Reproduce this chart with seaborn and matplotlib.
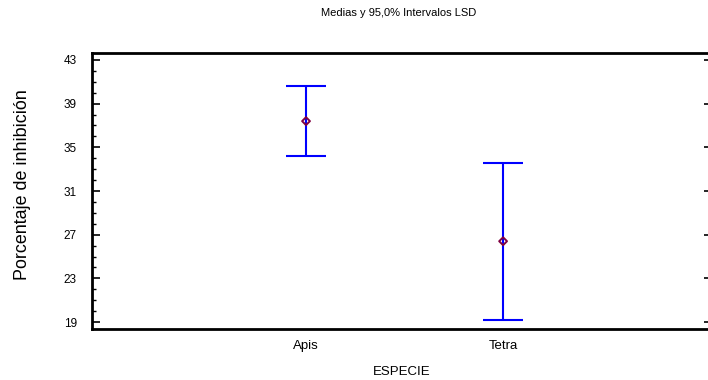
import matplotlib
matplotlib.use('Agg')
import matplotlib.pyplot as plt
from matplotlib.ticker import MultipleLocator
import seaborn as sns
import pandas as pd

# LSD means and 95% intervals
especie = ['Apis', 'Tetra']
medias = [37.4, 26.4]
lim_inf = [34.2, 19.2]
lim_sup = [40.6, 33.6]

sns.set_style('white')
plt.rcParams['font.family'] = ['Liberation Sans', 'DejaVu Sans']
plt.rcParams['text.color'] = 'black'
plt.rcParams['xtick.color'] = 'black'
plt.rcParams['ytick.color'] = 'black'
plt.rcParams['axes.labelcolor'] = 'black'

df = pd.DataFrame({'ESPECIE': especie, 'media': medias,
                   'inf': lim_inf, 'sup': lim_sup})
df['pos'] = range(len(df))

fig = plt.figure(figsize=(7.08, 3.8), dpi=100)
# the plot frame runs slightly past the right edge of the picture
ax = fig.add_axes([92 / 708, 1 - 329 / 380, 620 / 708, 276 / 380])

ax.errorbar(df['pos'], df['media'],
            yerr=[df['media'] - df['inf'], df['sup'] - df['media']],
            fmt='none', ecolor='#0000FF', elinewidth=1.5,
            capsize=14.4, capthick=1.5, zorder=2)
sns.scatterplot(data=df, x='pos', y='media', ax=ax, marker='D', s=16,
                facecolor='none', edgecolor='#800040', linewidth=1.4,
                zorder=3, legend=False)

ax.set_xlim(-1.086, 2.06)
ax.set_ylim(18.36, 43.64)
ax.set_xticks(df['pos'])
ax.set_xticklabels(df['ESPECIE'], fontsize=9.5)
ax.yaxis.set_minor_locator(MultipleLocator(1))
ax.set_yticks(range(19, 44, 4))
ax.tick_params(axis='y', which='major', direction='in', length=6, width=1.2,
               labelsize=8.5, left=True, right=True, pad=11)
ax.tick_params(axis='y', which='minor', direction='in', length=3, width=1,
               left=True, right=True)
ax.tick_params(axis='x', which='major', length=0, pad=8)

for side in ['left', 'top', 'bottom', 'right']:
    ax.spines[side].set_linewidth(2)
    ax.spines[side].set_color('black')

ax.set_xlabel('ESPECIE', fontsize=9.5, labelpad=10)
ax.set_ylabel('Porcentaje de inhibición', fontsize=12.9)
ax.yaxis.set_label_coords(-0.098, 0.522)
fig.text(399 / 708, 1 - 13 / 380, 'Medias y 95,0% Intervalos LSD',
         ha='center', va='center', fontsize=8)

fig.savefig('out.png', dpi=100)
